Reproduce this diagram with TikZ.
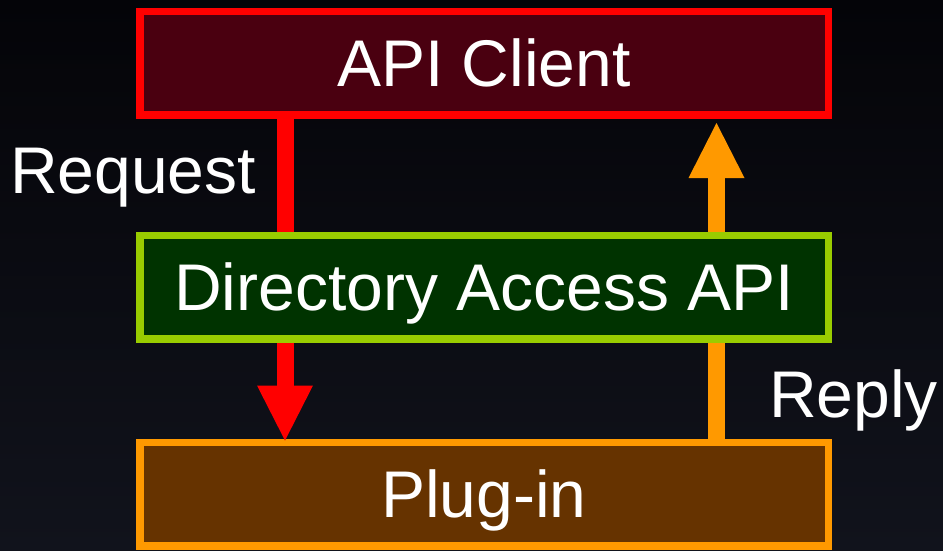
\documentclass[tikz,border=0pt]{standalone}
\usepackage{fontspec}
\setmainfont{Liberation Sans}
\usetikzlibrary{arrows.meta}

\definecolor{bgtop}{HTML}{040408}
\definecolor{bgbottom}{HTML}{11131C}
\definecolor{clientedge}{HTML}{FF0000}
\definecolor{clientfill}{HTML}{4A0010}
\definecolor{apiedge}{HTML}{99CC00}
\definecolor{apifill}{HTML}{003300}
\definecolor{plugedge}{HTML}{FF9900}
\definecolor{plugfill}{HTML}{663300}

\tikzset{
  layerbox/.style={rectangle, line width=7.5pt, inner sep=0pt,
    minimum width=688.5pt, minimum height=103.5pt,
    text=white, font=\fontsize{66}{79}\selectfont,
    text height=47pt, text depth=0pt},
  flowlabel/.style={text=white, font=\fontsize{66}{79}\selectfont, inner sep=0pt},
  flowline/.style={line width=17pt},
  flowhead/.style={-{Triangle[width=56pt,length=55pt,line width=0pt]}},
}

\begin{document}
\begin{tikzpicture}[x=1pt,y=-1pt]
  % canvas with its vertical shading
  \useasboundingbox (0,0) rectangle (943,550);
  \shade[top color=bgtop, bottom color=bgbottom] (0,0) rectangle (943,550);

  % the three layers
  \node[layerbox, draw=clientedge, fill=clientfill] (client) at (484,63) {API Client};
  \node[layerbox, draw=apiedge, fill=apifill] (api) at (484,287) {Directory Access API};
  \node[layerbox, draw=plugedge, fill=plugfill] (plug) at (484,494) {Plug-in};

  % columns of the two flows
  \coordinate (reqx) at (285,0);
  \coordinate (repx) at (716.5,0);
  \coordinate (reptip) at (716.5,123);

  % request: client -> API -> plug-in
  \draw[flowline, clientedge] (reqx |- client.south) -- (reqx |- api.north);
  \draw[flowline, flowhead, clientedge] (reqx |- api.south) -- ([yshift=-2pt]reqx |- plug.north);

  % reply: plug-in -> API -> client
  \draw[flowline, plugedge] (repx |- plug.north) -- (repx |- api.south);
  \draw[flowline, flowhead, plugedge] (repx |- api.north) -- (reptip);

  % flow labels
  \node[flowlabel, anchor=base west] (reqlabel) at (10,193) {Request};
  \node[flowlabel, anchor=base west] (replabel) at (769,417.5) {Reply};
\end{tikzpicture}
\end{document}
